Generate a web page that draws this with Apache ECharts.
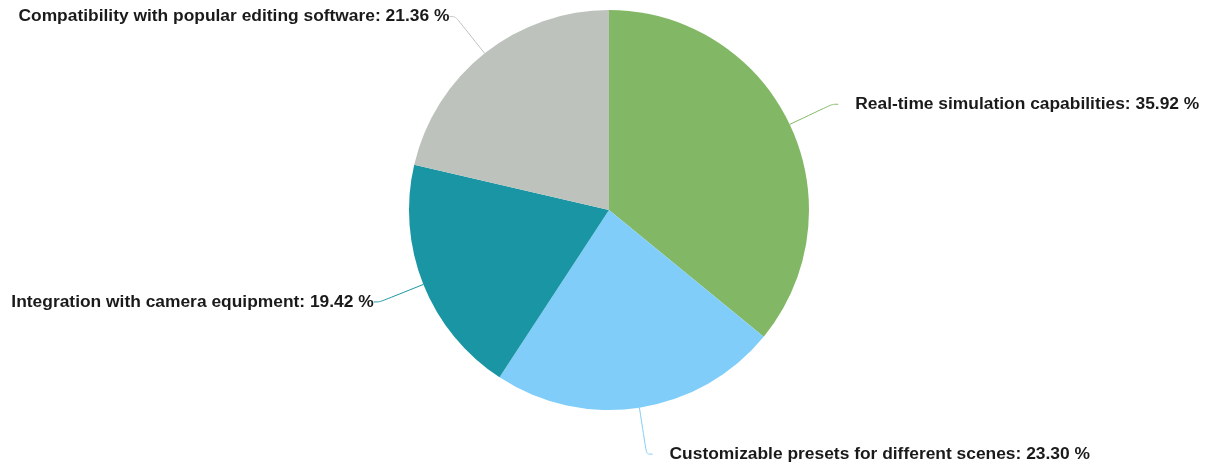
<!DOCTYPE html>
<html>
<head>
<meta charset="utf-8">
<script src="https://cdn.jsdelivr.net/npm/echarts@6/dist/echarts.min.js"></script>
<style>
  html, body { margin: 0; padding: 0; background: #ffffff; }
  #chart { width: 1210px; height: 468px; }
</style>
</head>
<body>
<div id="chart"></div>
<script>
// Feature share, listed clockwise from 12 o'clock
const categories = [
  'Real-time simulation capabilities',
  'Customizable presets for different scenes',
  'Integration with camera equipment',
  'Compatibility with popular editing software'
];
const shares = [35.92, 23.30, 19.42, 21.36];
const colors = ['#82b865', '#80cdf9', '#1995a4', '#bdc2bd'];

const chart = echarts.init(document.getElementById('chart'));
chart.setOption({
  animation: false,
  series: [{
    type: 'pie',
    center: [609, 210],
    radius: 200,
    startAngle: 90,
    clockwise: true,
    data: categories.map((name, i) => ({
      name,
      value: shares[i],
      itemStyle: { color: colors[i] }
    })),
    label: {
      formatter: p => p.name + ': ' + p.value.toFixed(2) + ' %',
      fontFamily: '"Liberation Sans", Arial, sans-serif',
      fontWeight: 'bold',
      fontSize: 17.4,
      color: '#1a1a1a',
      overflow: 'none',
      distanceToLabelLine: 0,
      padding: [7, 0, 0, 17]
    },
    labelLine: {
      show: true,
      length: 47,
      length2: 6,
      smooth: true,
      lineStyle: { width: 1 }
    }
  }]
});
</script>
</body>
</html>
